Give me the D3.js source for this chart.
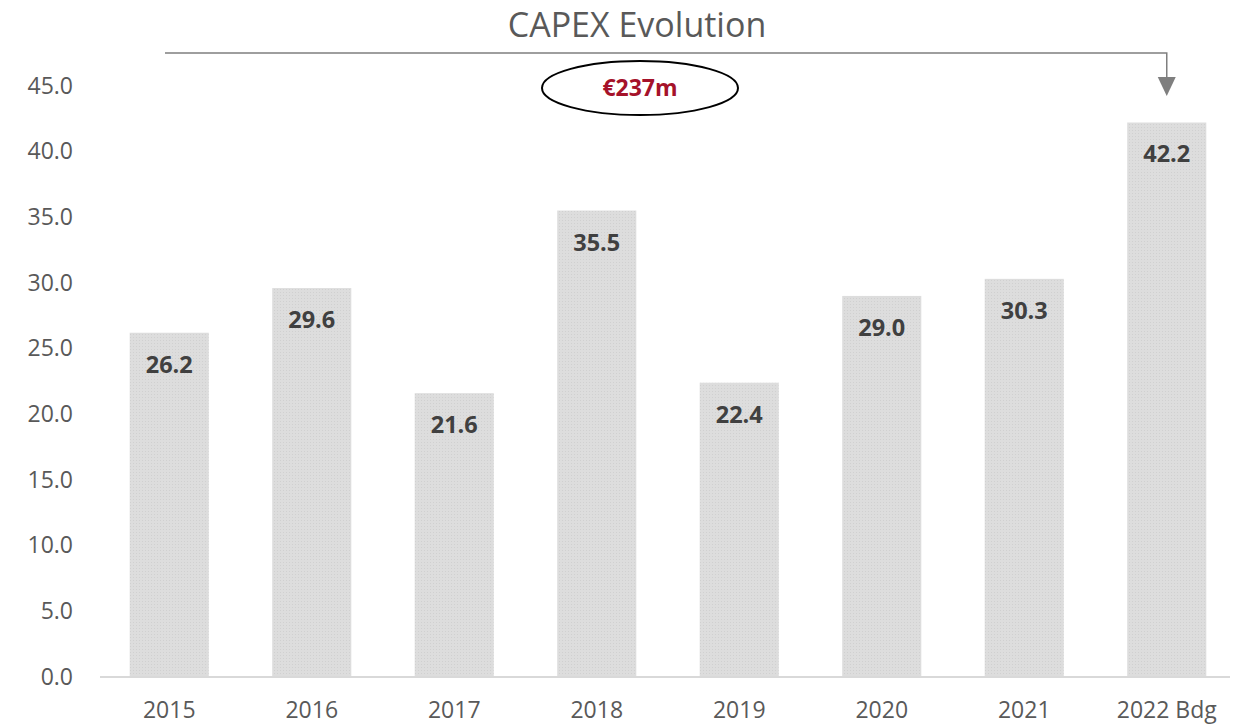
<!DOCTYPE html>
<html><head><meta charset="utf-8">
<script src="https://cdn.jsdelivr.net/npm/d3@7"></script>
<style>html,body{margin:0;padding:0;background:#fff;} svg{display:block;}</style>
</head><body>
<svg id="chart" width="1243" height="724"></svg>
<script>
const categories = ["2015","2016","2017","2018","2019","2020","2021","2022 Bdg"];
const values = [26.2, 29.6, 21.6, 35.5, 22.4, 29.0, 30.3, 42.2];
const yTicks = [0,5,10,15,20,25,30,35,40,45];
const title = "CAPEX Evolution";
const totalLabel = "€237m";

const svg = d3.select("#chart");
const font = "'Open Sans', sans-serif";
const x = d3.scaleBand().domain(categories).range([98, 1238]).paddingInner(0.445).paddingOuter(0.2225);
const y = d3.scaleLinear().domain([0,45]).range([677, 85.7]);

const defs = svg.append("defs");
const pat = defs.append("pattern").attr("id","dots").attr("patternUnits","userSpaceOnUse").attr("width",3).attr("height",3);
pat.append("rect").attr("width",3).attr("height",3).attr("fill","#dddddd");
pat.append("rect").attr("x",1).attr("y",1).attr("width",1).attr("height",1).attr("fill","#d0d0d0");

// y axis labels
const yAxis = svg.append("g").attr("transform","translate(73,0)")
  .call(d3.axisLeft(y).tickValues(yTicks).tickFormat(d3.format(".1f")).tickSize(0).tickPadding(0));
yAxis.select(".domain").remove();
yAxis.selectAll("text").attr("font-family",font).attr("font-size",23).attr("fill","#595959");

// bars
svg.append("g").selectAll("rect").data(values).join("rect")
  .attr("x",(d,i)=>x(categories[i])).attr("width",x.bandwidth())
  .attr("y",d=>y(d)).attr("height",d=>y(0)-y(d)).attr("fill","url(#dots)");

// x axis
const xAxis = svg.append("g").attr("transform",`translate(0,${y(0)})`)
  .call(d3.axisBottom(x).tickSize(0).tickPadding(25));
xAxis.select(".domain").attr("stroke","#d9d9d9").attr("stroke-width",2).attr("d","M100,0H1230");
xAxis.selectAll("text").attr("font-family",font).attr("font-size",23).attr("fill","#595959");

// bar labels
svg.append("g").selectAll("text").data(values).join("text")
  .attr("x",(d,i)=>x(categories[i])+x.bandwidth()/2).attr("y",d=>y(d)+40)
  .attr("text-anchor","middle").attr("font-family",font).attr("font-weight","bold")
  .attr("font-size",23.5).attr("fill","#404040").text(d=>d3.format(".1f")(d));

// title
svg.append("text").attr("x",637).attr("y",37).attr("text-anchor","middle")
  .attr("font-family",font).attr("font-size",34).attr("fill","#595959").text(title);

// bracket arrow
const lastX = x(categories[categories.length-1]) + x.bandwidth()/2;
svg.append("path").attr("d",`M165,53H${lastX}V80`).attr("fill","none").attr("stroke","#7f7f7f").attr("stroke-width",1.5);
svg.append("path").attr("d",`M${lastX-9},77L${lastX+9},77L${lastX},96Z`).attr("fill","#7f7f7f");

// ellipse
svg.append("ellipse").attr("cx",640).attr("cy",88).attr("rx",98).attr("ry",27)
  .attr("fill","none").attr("stroke","#000").attr("stroke-width",2);
svg.append("text").attr("x",640).attr("y",96).attr("text-anchor","middle")
  .attr("font-family",font).attr("font-weight","bold").attr("font-size",23).attr("fill","#a5122a").text(totalLabel);
</script>
</body></html>
